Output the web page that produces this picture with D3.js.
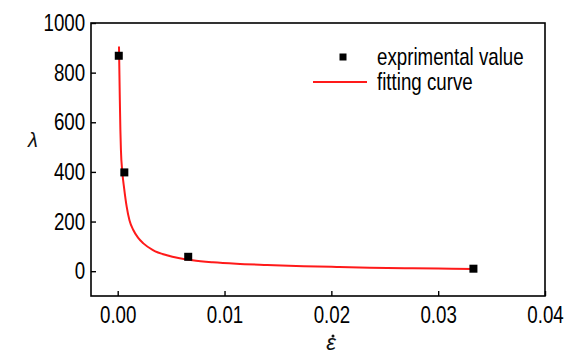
<!DOCTYPE html>
<html>
<head>
<meta charset="utf-8">
<script src="https://cdn.jsdelivr.net/npm/d3@7"></script>
<style>
  html, body { margin: 0; padding: 0; background: #fff; }
  svg { display: block; }
  text { font-family: "Liberation Sans", Arial, sans-serif; }
</style>
</head>
<body>
<svg id="chart" width="565" height="354"></svg>
<script>
// ---- data ----
const xTickValues = [0, 0.01, 0.02, 0.03, 0.04];
const xTickLabels = ["0.00", "0.01", "0.02", "0.03", "0.04"];
const yTickValues = [0, 200, 400, 600, 800, 1000];
const yTickLabels = ["0", "200", "400", "600", "800", "1000"];

const expStrainRate = [0.0001, 0.00062, 0.0066, 0.0333];
const expLambda = [868, 398, 58, 10];

const fitStrainRate = [0.00012, 0.0002, 0.00025, 0.0003, 0.00043, 0.0006, 0.00084, 0.0011, 0.00146, 0.0019, 0.0024, 0.0033, 0.0046, 0.0058, 0.0070, 0.0089, 0.0111, 0.014, 0.0174, 0.0205, 0.0236, 0.0276, 0.0300, 0.0333];
const fitLambda = [905, 690, 570, 490, 400, 335, 260, 205, 166, 135, 112, 85, 64, 52, 44, 36, 30, 25, 20, 17, 14, 12, 11, 9];

const legendLabels = ["exprimental value", "fitting curve"];

// ---- layout ----
const svg = d3.select("#chart");
const pL = 91, pR = 545, pT = 23, pB = 296;
const sx = 0.78; // horizontal text compression
const fs = 24;

const x = d3.scaleLinear().domain([-0.0025, 0.04]).range([pL, pR]);
const y = d3.scaleLinear().domain([-100, 1000]).range([pB, pT]);

// frame
svg.append("rect")
  .attr("x", pL).attr("y", pT)
  .attr("width", pR - pL).attr("height", pB - pT)
  .attr("fill", "none").attr("stroke", "#000").attr("stroke-width", 1.6);

// axes
const xAxis = d3.axisBottom(x)
  .tickValues(xTickValues)
  .tickFormat((d, i) => xTickLabels[i])
  .tickSizeInner(-5).tickSizeOuter(0).tickPadding(9.5);
const gx = svg.append("g").attr("transform", `translate(0,${pB})`).call(xAxis);
gx.select(".domain").remove();
gx.selectAll(".tick line").attr("stroke", "#000").attr("stroke-width", 1.4);
gx.selectAll(".tick text")
  .attr("font-size", fs).attr("fill", "#000")
  .attr("font-family", "Liberation Sans, Arial, sans-serif")
  .attr("transform", `scale(${sx},1)`)
  .attr("x", 0);

const yAxis = d3.axisLeft(y)
  .tickValues(yTickValues)
  .tickFormat((d, i) => yTickLabels[i])
  .tickSizeInner(-5).tickSizeOuter(0).tickPadding(7.5);
const gy = svg.append("g").attr("transform", `translate(${pL},0)`).call(yAxis);
gy.select(".domain").remove();
gy.selectAll(".tick line").attr("stroke", "#000").attr("stroke-width", 1.4);
gy.selectAll(".tick text")
  .attr("font-size", fs).attr("fill", "#000")
  .attr("font-family", "Liberation Sans, Arial, sans-serif")
  .attr("transform", `scale(${sx},1)`);

// fitting curve
const fitData = fitStrainRate.map((d, i) => [d, fitLambda[i]]);
svg.append("path")
  .datum(fitData)
  .attr("fill", "none")
  .attr("stroke", "#ff1a1a")
  .attr("stroke-width", 2)
  .attr("d", d3.line().x(d => x(d[0])).y(d => y(d[1])).curve(d3.curveMonotoneX));

// experimental points
const ms = 8;
svg.append("g").selectAll("rect")
  .data(expStrainRate.map((d, i) => [d, expLambda[i]]))
  .join("rect")
  .attr("x", d => x(d[0]) - ms / 2)
  .attr("y", d => y(d[1]) - ms / 2)
  .attr("width", ms).attr("height", ms)
  .attr("fill", "#000");

// legend
const lg = svg.append("g");
lg.append("rect").attr("x", 343 - 3.5).attr("y", 57 - 3.5).attr("width", 7).attr("height", 7).attr("fill", "#000");
lg.append("line").attr("x1", 313).attr("x2", 367).attr("y1", 82).attr("y2", 82)
  .attr("stroke", "#ff1a1a").attr("stroke-width", 2);
legendLabels.forEach((t, i) => {
  lg.append("text")
    .attr("transform", `translate(377,${57 + i * 25}) scale(${sx},1)`)
    .attr("dy", "0.35em")
    .attr("font-size", fs).attr("fill", "#000")
    .text(t);
});

// axis titles
svg.append("text")
  .attr("x", 33).attr("y", 140)
  .attr("text-anchor", "middle").attr("dy", "0.35em")
  .attr("font-family", "DejaVu Serif, serif")
  .attr("font-style", "italic")
  .attr("font-size", 20).attr("fill", "#111")
  .text("\u03bb");

svg.append("text")
  .attr("x", 331).attr("y", 350)
  .attr("text-anchor", "middle")
  .attr("font-family", "DejaVu Serif, serif")
  .attr("font-style", "italic")
  .attr("font-size", 22).attr("fill", "#111")
  .text("\u03b5");
// dot accent over epsilon (time derivative)
svg.append("circle").attr("cx", 333).attr("cy", 336).attr("r", 1.5).attr("fill", "#111");
</script>
</body>
</html>
